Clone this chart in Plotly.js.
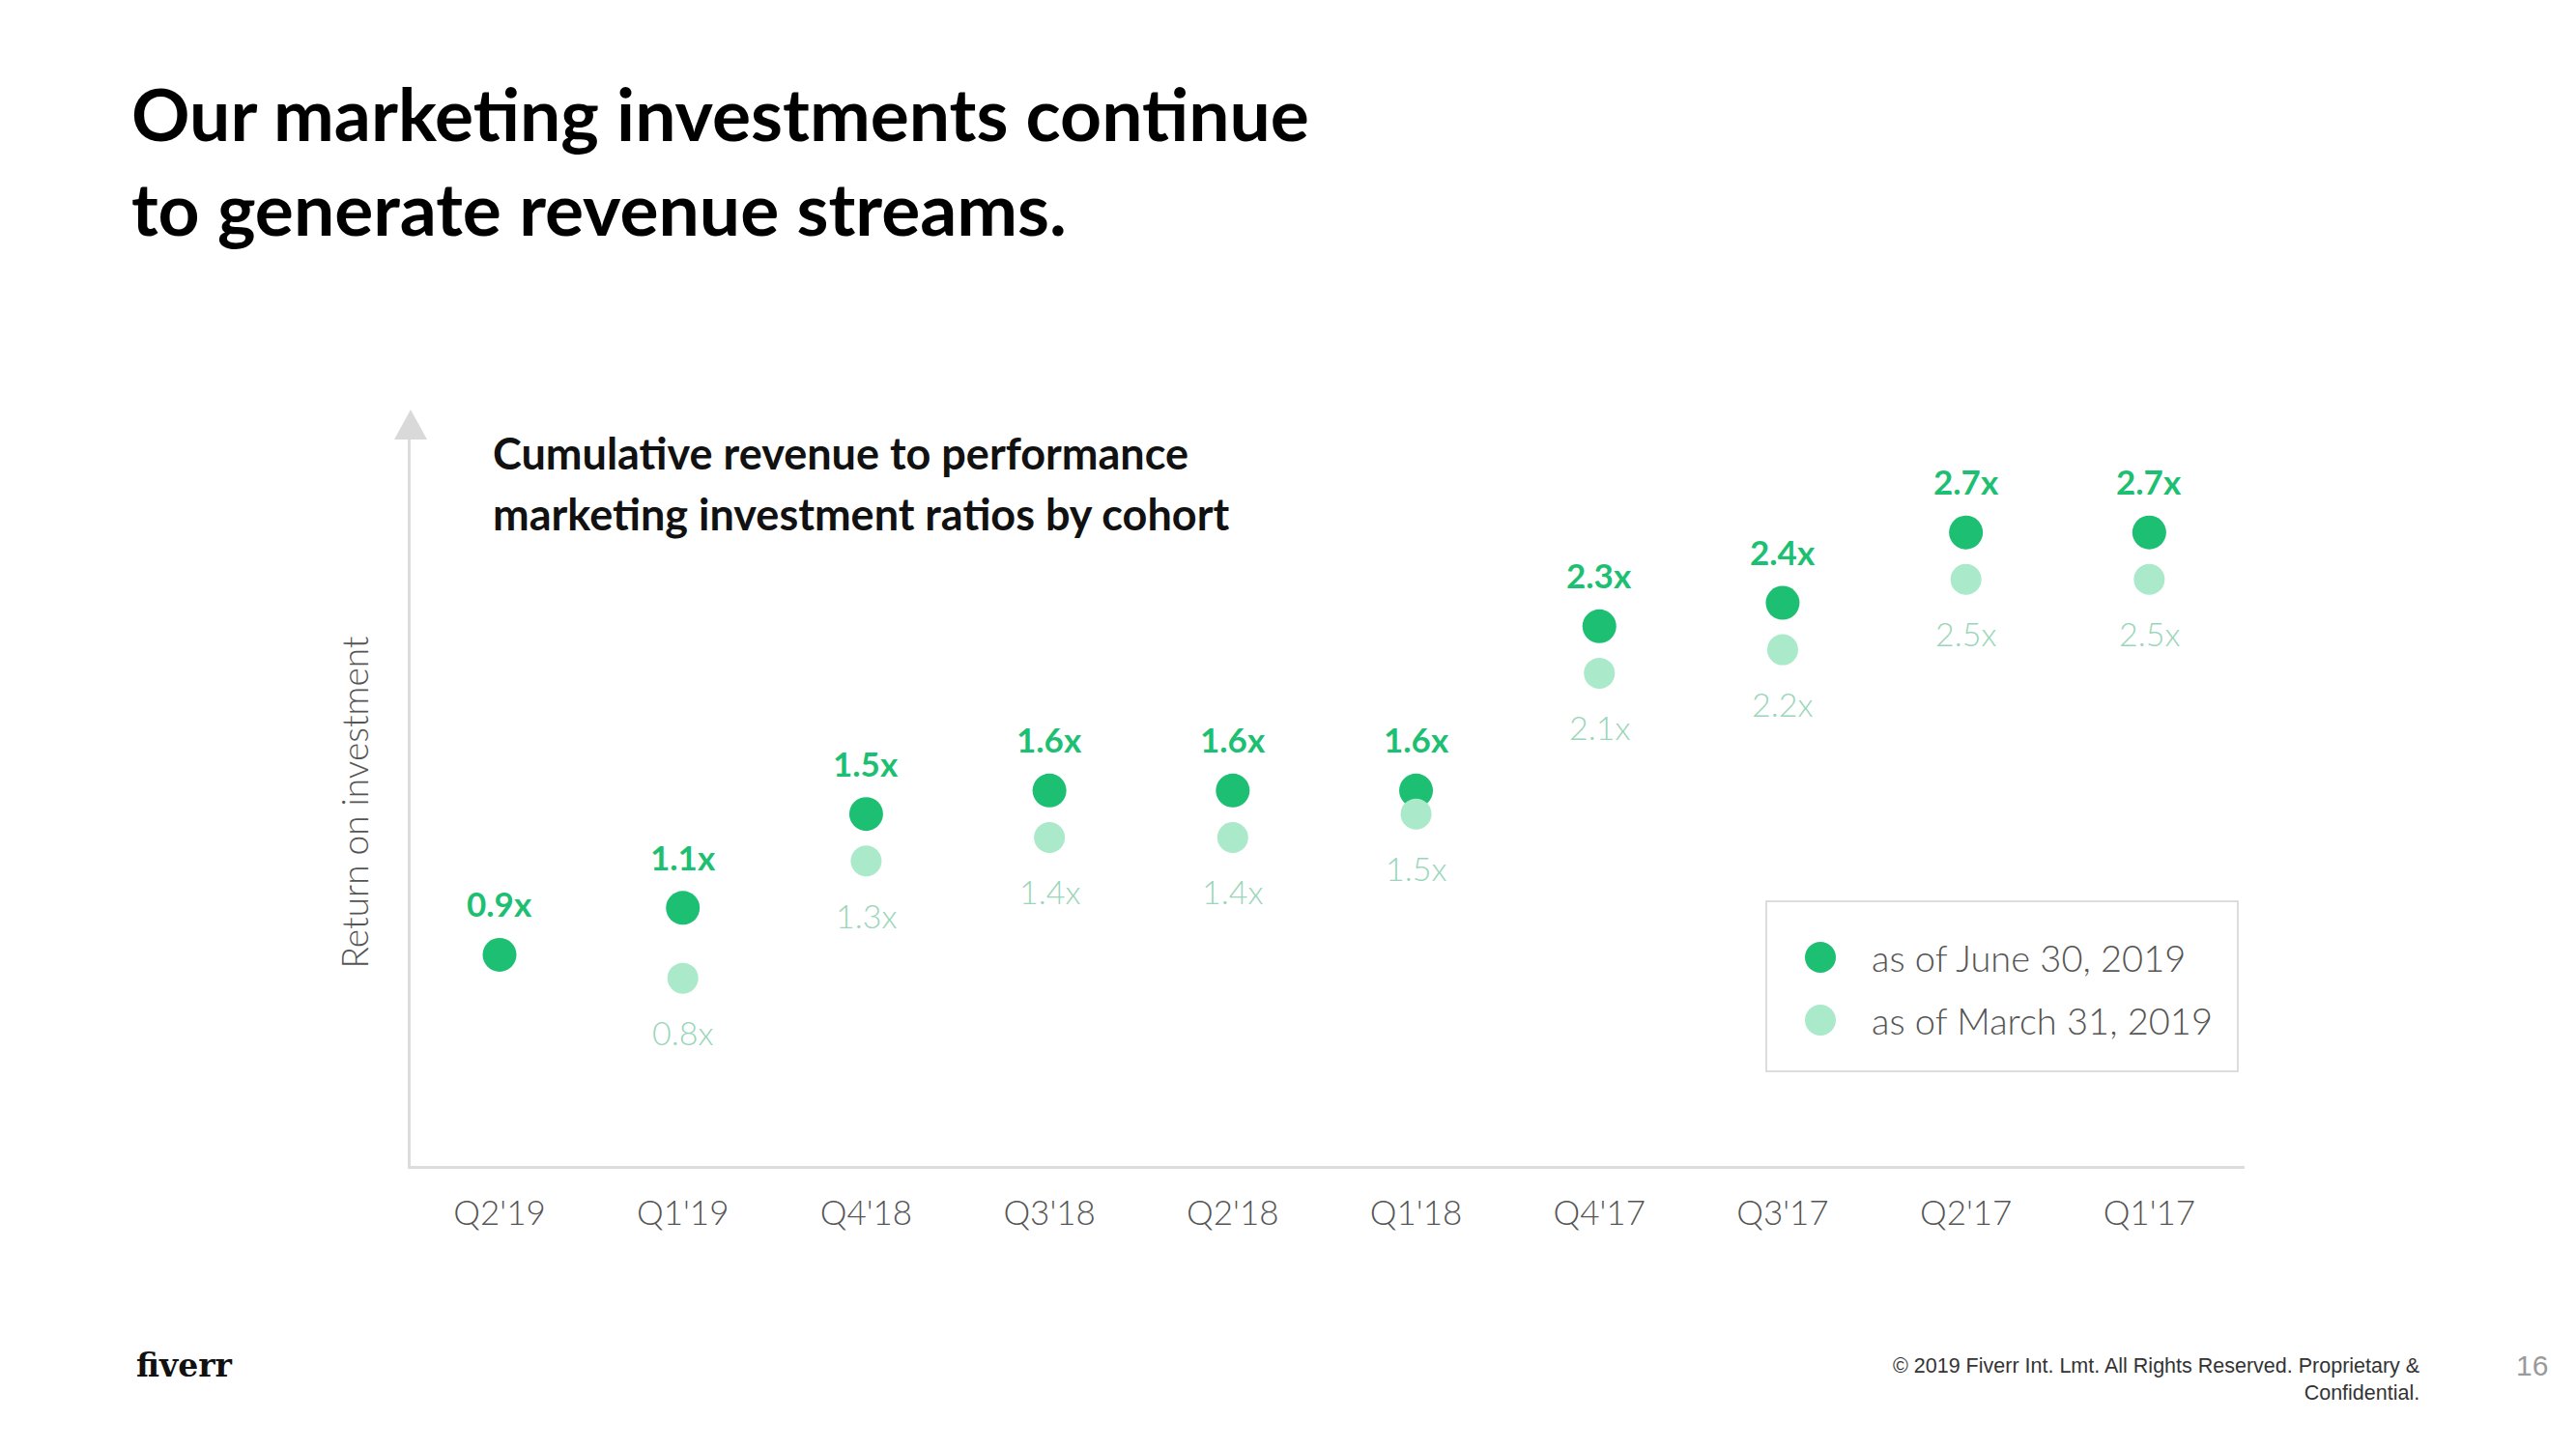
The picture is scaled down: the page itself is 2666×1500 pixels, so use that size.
<!DOCTYPE html>
<html>
<head>
<meta charset="utf-8">
<script src="https://cdn.plot.ly/plotly-3.0.1.min.js"></script>
<style>html,body{margin:0;padding:0;background:#fff;}#chart{width:2666px;height:1500px;}</style>
</head>
<body>
<div id="chart"></div>
<script>
// ---- data ----
const categories = ["Q2'19","Q1'19","Q4'18","Q3'18","Q2'18","Q1'18","Q4'17","Q3'17","Q2'17","Q1'17"];
const asOfJune = [0.9, 1.1, 1.5, 1.6, 1.6, 1.6, 2.3, 2.4, 2.7, 2.7];
const asOfMarch = [null, 0.8, 1.3, 1.4, 1.4, 1.5, 2.1, 2.2, 2.5, 2.5];
const seriesNames = ["as of June 30, 2019", "as of March 31, 2019"];

// ---- style ----
const DARK = '#1dbf73';
const LIGHT = '#abe9cb';
const LIGHT_TEXT = '#9ad6b9';
const W = 2666, H = 1500;
const M = {l: 425, r: 343, t: 454, b: 293};
const PW = W - M.l - M.r, PH = H - M.t - M.b;
const px = x => (x - M.l) / PW;
const py = y => (H - M.b - y) / PH;

const traces = [
  {x: categories, y: asOfJune, name: seriesNames[0], type: 'scatter', mode: 'markers',
   marker: {size: 35, color: DARK}, showlegend: false, cliponaxis: false},
  {x: categories, y: asOfMarch, name: seriesNames[1], type: 'scatter', mode: 'markers',
   marker: {size: 32, color: LIGHT}, showlegend: false, cliponaxis: false}
];

const annotations = [];
categories.forEach((c, i) => {
  if (asOfJune[i] != null) annotations.push({x: c, y: asOfJune[i], xref: 'x', yref: 'y',
    text: '<b>' + asOfJune[i].toFixed(1) + 'x</b>', showarrow: false, yshift: 53, yanchor: 'middle',
    font: {family: 'Lato', size: 35, color: DARK}});
  if (asOfMarch[i] != null) annotations.push({x: c, y: asOfMarch[i], xref: 'x', yref: 'y',
    text: asOfMarch[i].toFixed(1) + 'x', showarrow: false, yshift: -56, yanchor: 'middle',
    font: {family: 'Lato', size: 34, weight: 300, color: LIGHT_TEXT}});
});

// subtitle
annotations.push({xref: 'paper', yref: 'paper', x: px(508), y: py(469), xanchor: 'left', yanchor: 'middle',
  text: '<b>Cumulative revenue to performance</b>', showarrow: false, font: {family: 'Lato', size: 45, color: '#111'}});
annotations.push({xref: 'paper', yref: 'paper', x: px(508), y: py(532), xanchor: 'left', yanchor: 'middle',
  text: '<b>marketing investment ratios by cohort</b>', showarrow: false, font: {family: 'Lato', size: 45, color: '#111'}});

// legend texts
annotations.push({xref: 'paper', yref: 'paper', x: px(1935), y: py(991), xanchor: 'left', yanchor: 'middle',
  text: seriesNames[0], showarrow: false, font: {family: 'Lato', size: 38, weight: 300, color: '#555'}});
annotations.push({xref: 'paper', yref: 'paper', x: px(1935), y: py(1056), xanchor: 'left', yanchor: 'middle',
  text: seriesNames[1], showarrow: false, font: {family: 'Lato', size: 38, weight: 300, color: '#555'}});

// footer
annotations.push({xref: 'paper', yref: 'paper', x: px(139), y: py(1413), xanchor: 'left', yanchor: 'middle',
  text: '<b>fiverr</b>', showarrow: false, font: {family: 'DejaVu Serif', size: 33, color: '#111'}});
annotations.push({xref: 'paper', yref: 'paper', x: px(2506), y: py(1428), xanchor: 'right', yanchor: 'middle', align: 'right',
  text: '© 2019 Fiverr Int. Lmt. All Rights Reserved. Proprietary &amp;<br>Confidential.', showarrow: false,
  font: {family: 'Liberation Sans', size: 21.5, color: '#333'}});
annotations.push({xref: 'paper', yref: 'paper', x: px(2620), y: py(1413), xanchor: 'center', yanchor: 'middle',
  text: '16', showarrow: false, font: {family: 'Liberation Sans', size: 30, color: '#9a9a9a'}});

const shapes = [
  // axis arrow head
  {type: 'path', xref: 'paper', yref: 'paper',
   path: `M ${px(408)},${py(455)} L ${px(442)},${py(455)} L ${px(425)},${py(424)} Z`,
   fillcolor: '#d9d9d9', line: {width: 0}},
  // legend box
  {type: 'rect', xref: 'paper', yref: 'paper', x0: px(1828), x1: px(2316), y0: py(933), y1: py(1109),
   line: {color: '#dddddd', width: 2}, fillcolor: 'rgba(0,0,0,0)'},
  {type: 'circle', xref: 'paper', yref: 'paper', xsizemode: 'pixel', ysizemode: 'pixel',
   xanchor: px(1884), yanchor: py(991), x0: -16, x1: 16, y0: -16, y1: 16, fillcolor: DARK, line: {width: 0}},
  {type: 'circle', xref: 'paper', yref: 'paper', xsizemode: 'pixel', ysizemode: 'pixel',
   xanchor: px(1884), yanchor: py(1056), x0: -16, x1: 16, y0: -16, y1: 16, fillcolor: LIGHT, line: {width: 0}}
];

const layout = {
  width: W, height: H,
  margin: M,
  paper_bgcolor: '#fff', plot_bgcolor: '#fff',
  showlegend: false,
  title: {text: '<b>Our marketing investments continue<br>to generate revenue streams.</b>',
    xref: 'container', yref: 'container', x: 136 / W, xanchor: 'left', y: 1 - 146 / H, yanchor: 'top',
    font: {family: 'Lato', size: 75, color: '#000'}},
  xaxis: {type: 'category', range: [-0.485, 9.52], showline: true, linecolor: '#dcdcdc', linewidth: 3,
    showgrid: false, zeroline: false, ticks: '', ticklabelstandoff: 16,
    tickfont: {family: 'Lato', size: 35, weight: 300, color: '#555'}, fixedrange: true},
  yaxis: {range: [0, 3.1], showline: true, linecolor: '#dcdcdc', linewidth: 3, showgrid: false,
    zeroline: false, showticklabels: false, ticks: '',
    title: {text: 'Return on investment', standoff: 30, font: {family: 'Lato', size: 37, weight: 300, color: '#555'}}},
  annotations: annotations,
  shapes: shapes
};

Plotly.newPlot('chart', traces, layout, {staticPlot: true});
</script>
</body>
</html>
